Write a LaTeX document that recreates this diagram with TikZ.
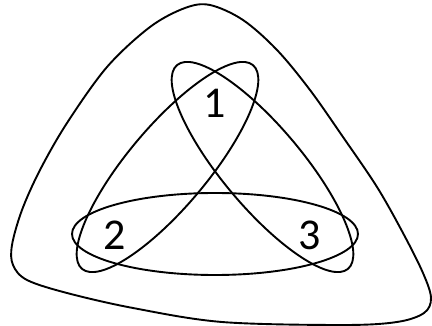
\documentclass[tikz,border=0pt]{standalone}
\usepackage{fontspec}
\setmainfont{Carlito}
\begin{document}
\begin{tikzpicture}[x=1pt, y=-1pt, line width=1.9pt,
		lbl/.style={font=\fontsize{44}{50}\selectfont, inner sep=0pt}]
		\useasboundingbox (0,0) rectangle (432,326);
		% внешняя область
		\draw plot[smooth cycle, tension=0.55] coordinates {(210,5) (243,20) (277,50) (310,90)
			(343,137) (377,187) (403,233) (423,273) (431,298) (424,313) (397,322) (343,325)
			(222,322) (133,308) (67,293) (27,280) (13,265) (12,245) (22,210) (40,170)
			(67,123) (107,67) (150,27) (185,8)};
		% эллипсы
		\coordinate (cb) at (215,234);
		\coordinate (cl) at (167.5,167);
		\coordinate (cr) at (262.5,167);
		\draw (cb) ellipse [x radius=143pt, y radius=41pt];
		\draw[rotate around={50:(cl)}] (cl) ellipse [x radius=133pt, y radius=40pt];
		\draw[rotate around={-50:(cr)}] (cr) ellipse [x radius=133pt, y radius=40pt];
		% метки
		\node[lbl] (one) at (215,103) {1};
		\node[lbl] (two) at (115,235) {2};
		\node[lbl] (three) at (310,235) {3};
	\end{tikzpicture}
\end{document}
